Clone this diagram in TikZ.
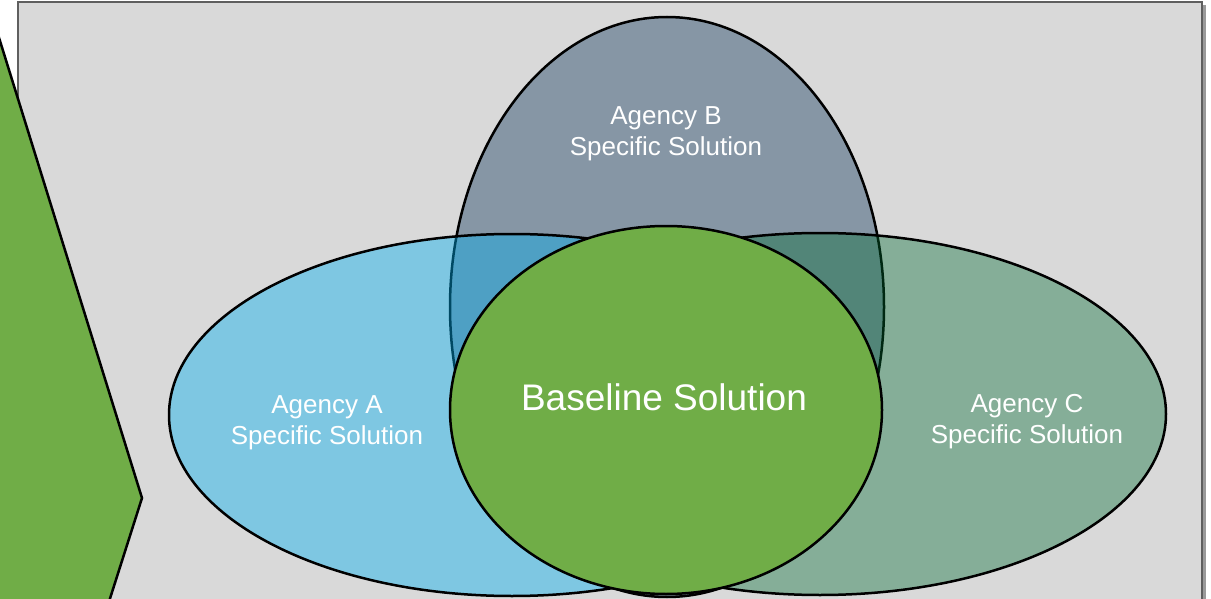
\documentclass[tikz,border=0pt]{standalone}
\usepackage{fontspec}
\setmainfont{Liberation Sans}
\definecolor{bggray}{HTML}{D9D9D9}
\definecolor{bgborder}{HTML}{5F5F5F}
\definecolor{shadowgray}{HTML}{9A9A9A}
\definecolor{slateB}{HTML}{8696A5}
\definecolor{blueA}{HTML}{00B0F0}
\definecolor{greenC}{RGB}{0,106,48}
\definecolor{basegreen}{HTML}{70AD47}
\tikzset{
  venn/.style={draw=black, line width=2.5pt},
  label26/.style={text=white, align=center, font=\fontsize{26}{31}\selectfont},
  label37/.style={text=white, align=center, font=\fontsize{37}{44}\selectfont},
}
\begin{document}
\begin{tikzpicture}[x=1pt,y=-1pt]
\useasboundingbox (0,0) rectangle (1211,599);
\clip (0,0) rectangle (1211,599);
% background panel with shadow
\fill[shadowgray] (21,5) rectangle (1206,620);
\draw[fill=bggray, draw=bgborder, line width=1.4pt] (18,2) rectangle (1202,620);
% Agency B
\draw[venn, fill=slateB] (667,307) ellipse [x radius=217, y radius=290];
% Agency A
\draw[venn, fill=blueA, fill opacity=0.415] (512,415) ellipse [x radius=343, y radius=181];
% Agency C
\draw[venn, fill=greenC, fill opacity=0.385] (820,414) ellipse [x radius=346, y radius=181];
% Baseline
\draw[venn, fill=basegreen] (666,410) ellipse [x radius=216, y radius=184];
% labels
\node[label26] (lblB) at (666,134) {Agency B\\Specific Solution};
\node[label26] (lblA) at (327,423) {Agency A\\Specific Solution};
\node[label26] (lblC) at (1027,422) {Agency C\\Specific Solution};
\node[label37] (lblBase) at (664,397) {Baseline Solution};
% green chevron on the left
\draw[fill=basegreen, draw=black, line width=2.5pt, line join=miter]
  (-50,-120) -- (142,498) -- (100,630) -- (-50,630) -- cycle;
\end{tikzpicture}
\end{document}
